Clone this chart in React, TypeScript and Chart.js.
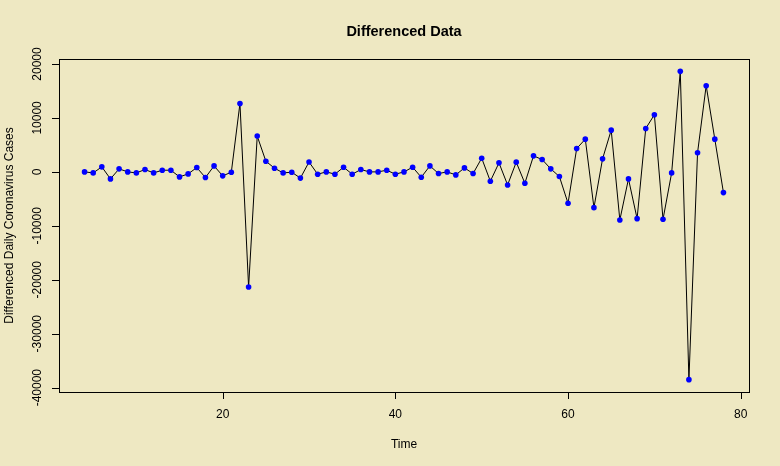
import React, { useEffect, useRef } from "react";
import { Chart, registerables } from "chart.js";

Chart.register(...registerables);

const timeIndex: number[] = [
  4, 5, 6, 7, 8, 9, 10, 11, 12, 13, 14, 15, 16, 17, 18, 19, 20, 21, 22, 23,
  24, 25, 26, 27, 28, 29, 30, 31, 32, 33, 34, 35, 36, 37, 38, 39, 40, 41, 42,
  43, 44, 45, 46, 47, 48, 49, 50, 51, 52, 53, 54, 55, 56, 57, 58, 59, 60, 61,
  62, 63, 64, 65, 66, 67, 68, 69, 70, 71, 72, 73, 74, 75, 76, 77, 78,
];

const diffCases: number[] = [
  0, -190, 930, -1300, 560, 0, -190, 430, -190, 310, 310, -930, -370, 800,
  -1050, 1110, -740, -60, 12690, -21350, 6630, 1980, 680, -190, -60, -1150,
  1830, -430, 0, -430, 870, -430, 430, 0, 0, 310, -430, 0, 870, -990, 1110,
  -310, 0, -560, 740, -310, 2540, -1730, 1670, -2420, 1800, -2110, 2970, 2290,
  560, -870, -5820, 4330, 6070, -6630, 2420, 7740, -8920, -1300, -8670, 8050,
  10590, -8790, -190, 18640, -38520, 3530, 15980, 6070, -3840,
];

const xTicks: number[] = [20, 40, 60, 80];
const yTicks: number[] = [-40000, -30000, -20000, -10000, 0, 10000, 20000];
const yTickLabels: string[] = ["-40000", "-30000", "-20000", "-10000", "0", "10000", "20000"];

const chartTitle = "Differenced Data";
const xAxisTitle = "Time";
const yAxisTitle = "Differenced Daily Coronavirus Cases";

const BG = "#EEE8C2";
const FONT = "'Liberation Sans', Arial, Helvetica, sans-serif";

export default function App() {
  const ref = useRef<HTMLCanvasElement | null>(null);

  useEffect(() => {
    document.body.style.margin = "0";
    document.body.style.background = BG;
    const canvas = ref.current;
    if (!canvas) return;

    const xs = timeIndex;
    const pad = (max: number, min: number) => (max - min) * 0.04;
    const xMin = Math.min(...xs), xMax = Math.max(...xs);
    const yMin = Math.min(...diffCases), yMax = Math.max(...diffCases);
    const px = pad(xMax, xMin), py = pad(yMax, yMin);

    const rPlot = {
      id: "rplot",
      beforeDraw(chart: any) {
        const ctx = chart.ctx;
        ctx.save();
        ctx.fillStyle = BG;
        ctx.fillRect(0, 0, chart.width, chart.height);
        ctx.restore();
      },
      afterDraw(chart: any) {
        const ctx = chart.ctx;
        const a = chart.chartArea;
        const xs = chart.scales.x;
        const ys = chart.scales.y;
        ctx.save();
        ctx.strokeStyle = "#000";
        ctx.lineWidth = 1;
        ctx.strokeRect(Math.round(a.left) + 0.5, Math.round(a.top) + 0.5,
          Math.round(a.right - a.left), Math.round(a.bottom - a.top));

        ctx.fillStyle = "#000";
        ctx.font = `12px ${FONT}`;
        // x ticks
        ctx.beginPath();
        xTicks.forEach((t) => {
          const x = Math.round(xs.getPixelForValue(t)) + 0.5;
          ctx.moveTo(x, Math.round(a.bottom));
          ctx.lineTo(x, Math.round(a.bottom) + 7);
        });
        // y ticks
        yTicks.forEach((t) => {
          const y = Math.round(ys.getPixelForValue(t)) + 0.5;
          ctx.moveTo(Math.round(a.left), y);
          ctx.lineTo(Math.round(a.left) - 7, y);
        });
        ctx.stroke();

        ctx.textAlign = "center";
        ctx.textBaseline = "middle";
        xTicks.forEach((t) => {
          ctx.fillText(String(t), xs.getPixelForValue(t), a.bottom + 22.5);
        });
        yTicks.forEach((t, i) => {
          ctx.save();
          ctx.translate(a.left - 21, ys.getPixelForValue(t));
          ctx.rotate(-Math.PI / 2);
          ctx.fillText(yTickLabels[i], 0, 0);
          ctx.restore();
        });

        // axis titles
        ctx.fillText(xAxisTitle, (a.left + a.right) / 2, 444.5);
        ctx.save();
        ctx.translate(10, (a.top + a.bottom) / 2);
        ctx.rotate(-Math.PI / 2);
        ctx.fillText(yAxisTitle, 0, 0);
        ctx.restore();

        // title
        ctx.font = `bold 14.5px ${FONT}`;
        ctx.fillText(chartTitle, (a.left + a.right) / 2, 31.5);
        ctx.restore();
      },
    };

    const chart = new Chart(canvas, {
      type: "scatter",
      data: {
        datasets: [
          {
            data: xs.map((x, i) => ({ x, y: diffCases[i] })),
            showLine: true,
            borderColor: "#000",
            borderWidth: 1,
            pointBackgroundColor: "#0000FF",
            pointBorderColor: "#0000FF",
            pointBorderWidth: 0,
            pointRadius: 2.8,
            tension: 0,
          },
        ],
      },
      options: {
        animation: false,
        responsive: false,
        events: [],
        layout: { padding: { left: 59, top: 59, right: 31, bottom: 74 } },
        plugins: { legend: { display: false }, tooltip: { enabled: false }, title: { display: false } },
        scales: {
          x: { type: "linear", display: false, min: xMin - px, max: xMax + px },
          y: { type: "linear", display: false, min: yMin - py, max: yMax + py },
        },
      },
      plugins: [rPlot],
    });

    return () => chart.destroy();
  }, []);

  return (
    <div style={{ position: "fixed", left: 0, top: 0, width: 780, height: 466, background: BG }}>
      <canvas ref={ref} width={780} height={466} style={{ width: 780, height: 466, display: "block" }} />
    </div>
  );
}
